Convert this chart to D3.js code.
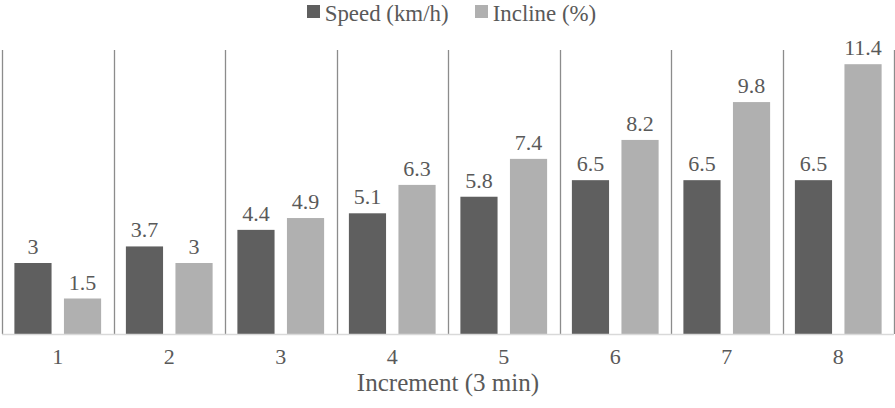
<!DOCTYPE html>
<html>
<head>
<meta charset="utf-8">
<script src="https://cdn.jsdelivr.net/npm/d3@7"></script>
</head>
<body style="margin:0; background:#fff">
<div id="chart"></div>
<script>
// data
var increments = ["1", "2", "3", "4", "5", "6", "7", "8"];
var speed = [3, 3.7, 4.4, 5.1, 5.8, 6.5, 6.5, 6.5];
var incline = [1.5, 3, 4.9, 6.3, 7.4, 8.2, 9.8, 11.4];
var seriesNames = ["Speed (km/h)", "Incline (%)"];
var colors = ["#5f5f5f", "#b0b0b0"];

var serif = "'Liberation Serif'";
var textColor = "#595959";

var width = 895, height = 408;
var margin = {top: 50, right: 1, bottom: 74, left: 2};

var svg = d3.select("#chart")
    .append("svg")
    .attr("width", width)
    .attr("height", height);

var x = d3.scaleBand()
    .domain(increments)
    .range([margin.left, width - margin.right])
    .paddingInner(0)
    .paddingOuter(0);

var xs = d3.scaleBand()
    .domain([0, 1])
    .range([0, x.bandwidth()])
    .paddingInner(0.25)
    .paddingOuter(0.25);

var y = d3.scaleLinear()
    .domain([0, 12])
    .range([height - margin.bottom, margin.top]);

var rows = increments.map(function(d, i) {
    return {cat: d, vals: [speed[i], incline[i]]};
});

// vertical separators
svg.append("g")
    .selectAll("line")
    .data(increments.concat(["end"]))
    .enter()
    .append("line")
    .attr("x1", function(d, i) { return Math.round(margin.left + i * x.step()) + 0.5; })
    .attr("x2", function(d, i) { return Math.round(margin.left + i * x.step()) + 0.5; })
    .attr("y1", y(12))
    .attr("y2", y(0))
    .attr("stroke", "#8c8c8c")
    .attr("stroke-width", 1.3);

// bars
var groups = svg.selectAll(".grp")
    .data(rows)
    .enter()
    .append("g")
    .attr("transform", function(d) { return "translate(" + x(d.cat) + ",0)"; });

groups.selectAll("rect")
    .data(function(d) { return d.vals; })
    .enter()
    .append("rect")
    .attr("x", function(d, i) { return xs(i); })
    .attr("y", function(d) { return y(d); })
    .attr("width", xs.bandwidth())
    .attr("height", function(d) { return y(0) - y(d); })
    .attr("fill", function(d, i) { return colors[i]; });

groups.selectAll(".lbl")
    .data(function(d) { return d.vals; })
    .enter()
    .append("text")
    .attr("x", function(d, i) { return xs(i) + xs.bandwidth() / 2; })
    .attr("y", function(d) { return y(d) - 9; })
    .attr("text-anchor", "middle")
    .style("font-family", serif)
    .style("font-size", "22px")
    .style("fill", textColor)
    .text(function(d) { return d; });

// baseline
svg.append("line")
    .attr("x1", margin.left)
    .attr("x2", width - margin.right)
    .attr("y1", y(0) + 0.5)
    .attr("y2", y(0) + 0.5)
    .attr("stroke", "#d9d9d9")
    .attr("stroke-width", 1.5);

// x axis
var xAxis = svg.append("g")
    .attr("transform", "translate(0," + y(0) + ")")
    .call(d3.axisBottom(x).tickSize(0).tickPadding(14));
xAxis.select(".domain").remove();
xAxis.selectAll("text")
    .style("font-family", serif)
    .style("font-size", "22px")
    .style("fill", textColor);

svg.append("text")
    .attr("transform", "translate(" + ((margin.left + width - margin.right) / 2) + ",391) scale(1.14)")
    .attr("text-anchor", "middle")
    .style("font-family", serif)
    .style("font-size", "22px")
    .style("fill", textColor)
    .text("Increment (3 min)");

// legend
var legendX = [307, 475];
var legend = svg.selectAll(".leg")
    .data(seriesNames)
    .enter()
    .append("g")
    .attr("transform", function(d, i) { return "translate(" + legendX[i] + ",5)"; });
legend.append("rect")
    .attr("width", 13)
    .attr("height", 13)
    .attr("fill", function(d, i) { return colors[i]; });
legend.append("text")
    .attr("x", 17)
    .attr("y", 15)
    .attr("transform", "scale(1.04)")
    .style("font-family", serif)
    .style("font-size", "22px")
    .style("fill", textColor)
    .text(function(d) { return d; });
</script>
</body>
</html>
